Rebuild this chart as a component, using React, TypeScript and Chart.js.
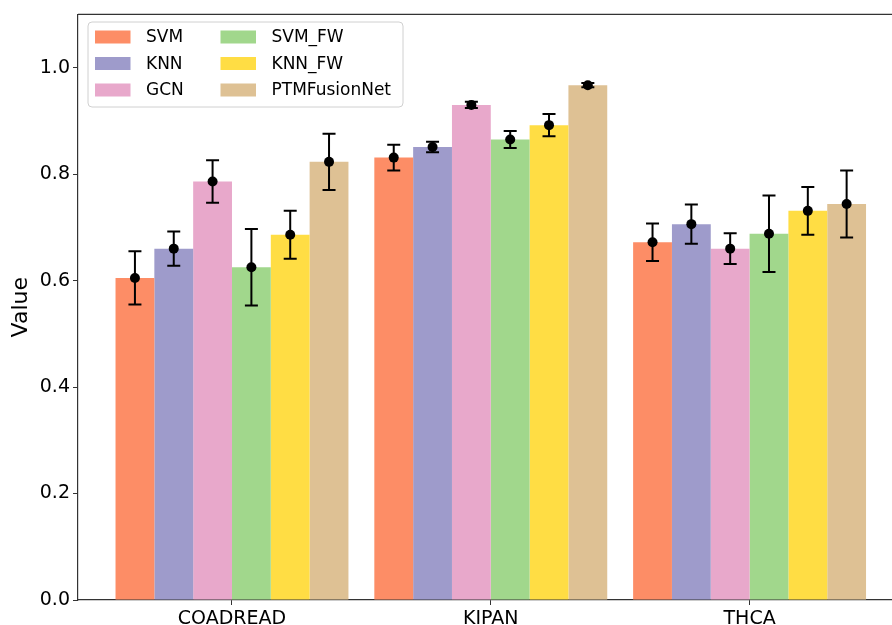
import React, { useEffect, useRef } from "react";
import { Chart, registerables } from "chart.js";

Chart.register(...registerables);

const categories = ["COADREAD", "KIPAN", "THCA"];
const seriesNames = ["SVM", "KNN", "GCN", "SVM_FW", "KNN_FW", "PTMFusionNet"];
const seriesColors = ["#FD8D66", "#9E9BCB", "#E8A8CB", "#A1D78C", "#FFDD44", "#DEC194"];

const svmValues = [0.605, 0.831, 0.672];
const knnValues = [0.660, 0.851, 0.706];
const gcnValues = [0.786, 0.930, 0.660];
const svmFwValues = [0.625, 0.865, 0.688];
const knnFwValues = [0.686, 0.892, 0.731];
const ptmValues = [0.823, 0.967, 0.744];

const svmErrors = [0.050, 0.024, 0.035];
const knnErrors = [0.032, 0.010, 0.037];
const gcnErrors = [0.040, 0.006, 0.029];
const svmFwErrors = [0.072, 0.016, 0.072];
const knnFwErrors = [0.045, 0.021, 0.045];
const ptmErrors = [0.053, 0.004, 0.063];

const yTicks = [0, 0.2, 0.4, 0.6, 0.8, 1.0];

const allValues = [svmValues, knnValues, gcnValues, svmFwValues, knnFwValues, ptmValues];
const allErrors = [svmErrors, knnErrors, gcnErrors, svmFwErrors, knnFwErrors, ptmErrors];

const FONT = "'DejaVu Sans', sans-serif";

const errorBarPlugin = {
  id: "errorBars",
  afterDatasetsDraw(chart: any) {
    const ctx = chart.ctx;
    const yScale = chart.scales.y;
    ctx.save();
    ctx.strokeStyle = "#000";
    ctx.fillStyle = "#000";
    ctx.lineWidth = 2;
    chart.data.datasets.forEach((ds: any, i: number) => {
      const meta = chart.getDatasetMeta(i);
      meta.data.forEach((bar: any, j: number) => {
        const v = allValues[i][j];
        const e = allErrors[i][j];
        const x = bar.x;
        const yT = yScale.getPixelForValue(v + e);
        const yB = yScale.getPixelForValue(v - e);
        const yM = yScale.getPixelForValue(v);
        ctx.beginPath();
        ctx.moveTo(x, yT);
        ctx.lineTo(x, yB);
        ctx.moveTo(x - 6.5, yT);
        ctx.lineTo(x + 6.5, yT);
        ctx.moveTo(x - 6.5, yB);
        ctx.lineTo(x + 6.5, yB);
        ctx.stroke();
        ctx.beginPath();
        ctx.arc(x, yM, 5, 0, Math.PI * 2);
        ctx.fill();
      });
    });
    ctx.restore();
  },
};

const framePlugin = {
  id: "frame",
  afterDraw(chart: any) {
    const { ctx, chartArea } = chart;
    ctx.save();
    ctx.strokeStyle = "#333";
    ctx.lineWidth = 1.2;
    ctx.beginPath();
    ctx.moveTo(chartArea.left, chartArea.top);
    ctx.lineTo(chartArea.right, chartArea.top);
    ctx.stroke();
    ctx.restore();
  },
};

const legendPlugin = {
  id: "customLegend",
  afterDraw(chart: any) {
    const ctx = chart.ctx;
    const bx = 88, by = 22, bw = 315, bh = 85, r = 4;
    ctx.save();
    ctx.beginPath();
    ctx.moveTo(bx + r, by);
    ctx.lineTo(bx + bw - r, by);
    ctx.quadraticCurveTo(bx + bw, by, bx + bw, by + r);
    ctx.lineTo(bx + bw, by + bh - r);
    ctx.quadraticCurveTo(bx + bw, by + bh, bx + bw - r, by + bh);
    ctx.lineTo(bx + r, by + bh);
    ctx.quadraticCurveTo(bx, by + bh, bx, by + bh - r);
    ctx.lineTo(bx, by + r);
    ctx.quadraticCurveTo(bx, by, bx + r, by);
    ctx.closePath();
    ctx.fillStyle = "rgba(255,255,255,0.8)";
    ctx.fill();
    ctx.strokeStyle = "#d0d0d0";
    ctx.lineWidth = 1;
    ctx.stroke();
    ctx.font = `17px ${FONT}`;
    ctx.textBaseline = "middle";
    ctx.textAlign = "left";
    const colX = [95, 220.5];
    const rowY = [37, 63.5, 90];
    chart.data.datasets.forEach((ds: any, i: number) => {
      const col = Math.floor(i / 3);
      const row = i % 3;
      const px = colX[col];
      const py = rowY[row];
      ctx.fillStyle = ds.backgroundColor;
      ctx.fillRect(px, py - 6.5, 35.5, 13);
      ctx.fillStyle = "#000";
      ctx.fillText(ds.label, px + 51, py + 1);
    });
    ctx.restore();
  },
};

export default function App() {
  const ref = useRef<HTMLCanvasElement | null>(null);
  useEffect(() => {
    document.body.style.margin = "0";
    if (!ref.current) return;
    const chart = new Chart(ref.current, {
      type: "bar",
      data: {
        datasets: seriesNames.map((name, i) => ({
          label: name,
          data: categories.map((c, k) => ({ x: k, y: allValues[i][k] })),
          backgroundColor: seriesColors[i],
          borderWidth: 0,
          categoryPercentage: 0.9,
          barPercentage: 1.0,
        })),
      },
      options: {
        animation: false,
        responsive: false,
        events: [],
        layout: { padding: { top: 14, left: 0, right: 0, bottom: 0 } },
        plugins: { legend: { display: false }, tooltip: { enabled: false } },
        scales: {
          x: {
            type: "linear",
            min: -0.595,
            max: 2.5503,
            offset: false,
            afterBuildTicks: (scale: any) => {
              scale.ticks = categories.map((c, k) => ({ value: k }));
            },
            afterFit: (scale: any) => {
              scale.height = 25;
            },
            grid: {
              display: true,
              drawOnChartArea: false,
              drawTicks: true,
              tickLength: 5,
              tickColor: "#333",
              offset: false,
            },
            border: { display: true, color: "#333", width: 1.2 },
            ticks: {
              autoSkip: false,
              maxRotation: 0,
              padding: 3,
              color: "#000",
              font: { family: FONT, size: 19 },
              callback: (v: any) => categories[Math.round(Number(v))] ?? "",
            },
          },
          y: {
            type: "linear",
            min: 0,
            max: 1.1,
            afterBuildTicks: (scale: any) => {
              scale.ticks = yTicks.map((v) => ({ value: v }));
            },
            afterFit: (scale: any) => {
              scale.width = 78;
            },
            grid: {
              display: true,
              drawOnChartArea: false,
              drawTicks: true,
              tickLength: 5,
              tickColor: "#333",
            },
            border: { display: true, color: "#333", width: 1.2 },
            ticks: {
              padding: 3,
              color: "#000",
              font: { family: FONT, size: 19 },
              callback: (v: any) => Number(v).toFixed(1),
            },
            title: {
              display: true,
              text: "Value",
              color: "#000",
              font: { family: FONT, size: 22 },
              padding: { top: 8, bottom: 0 },
            },
          },
        },
      },
      plugins: [errorBarPlugin, framePlugin, legendPlugin],
    } as any);
    return () => chart.destroy();
  }, []);
  return <canvas ref={ref} width={892} height={625} style={{ display: "block" }} />;
}
